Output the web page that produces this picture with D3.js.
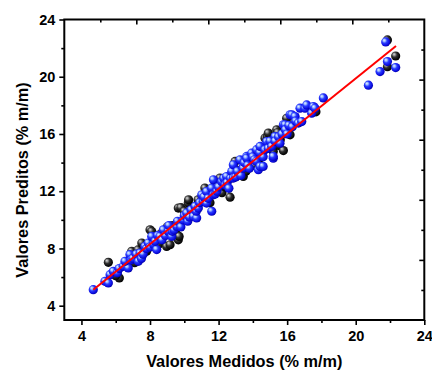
<!DOCTYPE html>
<html>
<head>
<meta charset="utf-8">
<script src="https://cdn.jsdelivr.net/npm/d3@7"></script>
<style>
  html, body { margin: 0; padding: 0; background: #fff; }
  svg { display: block; }
  text { font-family: "Liberation Sans", Arial, sans-serif; font-weight: bold; fill: #000; }
</style>
</head>
<body>
<svg id="chart" width="432" height="372"></svg>
<script>
// ---- data ----
const xTicks = [4, 8, 12, 16, 20, 24];
const xMinorTicks = [6, 10, 14, 18, 22];
const yTicks = [4, 8, 12, 16, 20, 24];
const yMinorTicks = [6, 10, 14, 18, 22];
const topMajor = [2, 4, 6, 8];
const topMinor = [1, 3, 5, 7, 9];
const rightMajor = [2, 4, 6, 8];
const rightMinor = [1, 3, 5, 7, 9];

const blackX = [5.57, 6.21, 6.0, 6.6, 6.93, 7.1, 7.3, 7.52, 7.8, 8.0, 8.1, 8.2, 8.5, 8.6, 8.97, 9.0, 9.17, 9.3, 9.5, 9.65, 9.7, 9.75, 9.65, 9.8, 10.0, 10.23, 10.25, 10.4, 10.5, 10.8, 11.02, 11.2, 11.3, 11.5, 11.8, 11.9, 12.08, 12.2, 12.4, 12.67, 12.96, 13.0, 13.2, 13.44, 13.6, 13.8, 14.0, 14.1, 14.4, 14.71, 14.85, 14.9, 15.0, 15.19, 15.39, 15.45, 15.5, 15.6, 15.78, 15.97, 16.0, 16.17, 16.4, 17.68, 21.85, 22.33, 21.85];
const blackY = [7.03, 5.94, 6.1, 7.0, 7.8, 7.0, 7.9, 8.38, 7.8, 9.3, 9.19, 8.7, 8.3, 9.0, 8.14, 9.5, 8.26, 9.6, 9.3, 8.6, 8.84, 9.66, 10.82, 10.85, 10.6, 11.17, 11.4, 10.3, 10.6, 11.4, 11.4, 12.22, 11.8, 11.2, 12.5, 12.4, 12.92, 11.9, 12.3, 11.58, 14.08, 13.5, 13.2, 13.03, 13.4, 14.2, 14.6, 13.8, 14.3, 15.71, 15.82, 16.06, 15.3, 14.78, 16.29, 16.1, 15.2, 15.6, 14.84, 17.1, 16.5, 15.94, 16.8, 17.55, 22.57, 21.45, 20.7];

const blueX = [4.69, 5.37, 5.57, 5.67, 5.86, 6.1, 6.2, 6.44, 6.73, 6.54, 6.83, 6.9, 7.0, 7.2, 7.32, 7.42, 7.5, 7.7, 7.6, 7.8, 7.9, 8.0, 8.1, 8.2, 8.39, 8.3, 8.45, 8.58, 8.7, 8.78, 8.9, 9.07, 9.1, 9.27, 9.3, 9.4, 9.56, 9.6, 9.8, 9.94, 10.0, 10.14, 10.2, 10.3, 10.4, 10.53, 10.72, 10.63, 10.7, 10.82, 10.9, 11.02, 11.1, 11.15, 11.3, 11.3, 11.4, 11.6, 11.69, 11.6, 11.7, 11.8, 11.9, 12.0, 12.18, 12.3, 12.38, 12.47, 12.5, 12.6, 12.7, 12.77, 12.86, 12.86, 13.0, 13.1, 13.25, 13.3, 13.44, 13.44, 13.5, 13.64, 13.64, 13.7, 13.8, 13.93, 14.0, 14.1, 14.2, 14.22, 14.32, 14.4, 14.42, 14.42, 14.6, 14.6, 14.7, 14.81, 14.9, 15.0, 15.1, 15.19, 15.19, 15.29, 15.3, 15.5, 15.58, 15.7, 15.78, 15.88, 15.9, 16.0, 16.1, 16.17, 16.27, 16.3, 16.46, 16.5, 16.65, 16.75, 16.85, 17.04, 17.14, 17.43, 17.53, 17.63, 18.11, 20.74, 21.42, 21.85, 22.33, 21.75];
const blueY = [5.12, 5.7, 5.59, 6.17, 6.4, 6.3, 6.6, 6.75, 6.64, 7.1, 7.57, 7.2, 7.3, 7.6, 7.1, 7.68, 7.3, 8.14, 7.6, 8.0, 8.38, 8.1, 8.84, 8.3, 7.92, 8.5, 8.9, 8.84, 8.6, 9.3, 8.9, 9.19, 9.6, 8.84, 9.2, 9.3, 9.54, 9.9, 9.5, 10.0, 10.3, 10.48, 9.9, 10.2, 10.7, 10.24, 10.13, 10.94, 10.6, 10.82, 11.2, 11.75, 11.3, 11.6, 11.17, 11.98, 11.5, 12.22, 11.75, 10.6, 12.8, 11.8, 12.0, 12.3, 12.68, 12.9, 12.45, 13.03, 12.6, 12.2, 12.9, 13.38, 13.85, 12.92, 13.0, 13.4, 14.2, 13.1, 13.73, 13.61, 14.0, 14.43, 14.31, 13.8, 13.6, 14.66, 14.4, 14.2, 14.1, 14.9, 13.5, 14.7, 13.73, 15.13, 14.4, 13.73, 14.9, 15.47, 15.0, 15.5, 15.13, 14.31, 14.43, 15.82, 15.5, 15.8, 15.36, 16.0, 16.64, 16.64, 16.3, 16.0, 16.6, 17.34, 17.34, 16.5, 17.22, 16.9, 16.76, 17.8, 16.87, 17.8, 18.03, 17.45, 17.92, 17.8, 18.52, 19.41, 20.36, 21.06, 20.64, 22.43];

const fitX = [4.69, 22.35];
const fitY = [5.12, 22.15];

// ---- layout ----
const svg = d3.select("#chart");
const L = 64.3, R = 424.3, T = 19.5, B = 320;
const x = d3.scaleLinear().domain([3, 24]).range([L, R]);
const y = d3.scaleLinear().domain([3, 24]).range([B, T]);
const xTop = d3.scaleLinear().domain([0, 10]).range([L, R]);
const yRight = d3.scaleLinear().domain([0, 10]).range([B, T]);

// gradients for shaded balls
const defs = svg.append("defs");
function ballGrad(id, stops) {
  const g = defs.append("radialGradient").attr("id", id)
    .attr("cx", "0.42").attr("cy", "0.42").attr("r", "0.62")
    .attr("fx", "0.32").attr("fy", "0.3");
  stops.forEach(s => g.append("stop").attr("offset", s[0]).attr("stop-color", s[1]));
}
ballGrad("gBlue", [["0%", "#e8f0ff"], ["22%", "#9ab8ff"], ["45%", "#2a3cff"], ["80%", "#0a0ae0"], ["100%", "#00009a"]]);
ballGrad("gBlack", [["0%", "#e0e0e0"], ["22%", "#909090"], ["45%", "#303030"], ["80%", "#0a0a0a"], ["100%", "#000"]]);

// points
const rad = 4.6;
const blackPts = blackX.map((v, i) => [v, blackY[i]]);
const bluePts = blueX.map((v, i) => [v, blueY[i]]);
svg.append("g").selectAll("circle").data(blackPts).join("circle")
  .attr("cx", d => x(d[0])).attr("cy", d => y(d[1])).attr("r", rad)
  .attr("fill", "url(#gBlack)");
svg.append("g").selectAll("circle").data(bluePts).join("circle")
  .attr("cx", d => x(d[0])).attr("cy", d => y(d[1])).attr("r", rad)
  .attr("fill", "url(#gBlue)");

// fit line
svg.append("path")
  .datum(fitX.map((v, i) => [v, fitY[i]]))
  .attr("d", d3.line().x(d => x(d[0])).y(d => y(d[1])))
  .attr("stroke", "#ff0000").attr("stroke-width", 2).attr("fill", "none");

// axes
function styleAxis(g) {
  g.select(".domain").remove();
  g.selectAll("line").attr("stroke", "#000").attr("stroke-width", 1.6);
  g.selectAll("text").style("font-size", "14.5px").style("font-weight", "bold")
    .style("font-family", '"Liberation Sans", Arial, sans-serif');
}
// bottom
svg.append("g").attr("transform", `translate(0,${B})`)
  .call(d3.axisBottom(x).tickValues(xTicks).tickSize(5).tickPadding(6).tickFormat(d3.format("d")))
  .call(styleAxis);
svg.append("g").attr("transform", `translate(0,${B})`)
  .call(d3.axisBottom(x).tickValues(xMinorTicks).tickSize(3).tickFormat(""))
  .call(styleAxis);
// left
svg.append("g").attr("transform", `translate(${L},0)`)
  .call(d3.axisLeft(y).tickValues(yTicks).tickSize(5).tickPadding(4).tickFormat(d3.format("d")))
  .call(styleAxis);
svg.append("g").attr("transform", `translate(${L},0)`)
  .call(d3.axisLeft(y).tickValues(yMinorTicks).tickSize(3).tickFormat(""))
  .call(styleAxis);
// top (inward)
svg.append("g").attr("transform", `translate(0,${T})`)
  .call(d3.axisBottom(xTop).tickValues(topMajor).tickSize(5).tickFormat(""))
  .call(styleAxis);
svg.append("g").attr("transform", `translate(0,${T})`)
  .call(d3.axisBottom(xTop).tickValues(topMinor).tickSize(3).tickFormat(""))
  .call(styleAxis);
// right (inward)
svg.append("g").attr("transform", `translate(${R},0)`)
  .call(d3.axisLeft(yRight).tickValues(rightMajor).tickSize(5).tickFormat(""))
  .call(styleAxis);
svg.append("g").attr("transform", `translate(${R},0)`)
  .call(d3.axisLeft(yRight).tickValues(rightMinor).tickSize(3).tickFormat(""))
  .call(styleAxis);

// frame
svg.append("rect").attr("x", L).attr("y", T).attr("width", R - L).attr("height", B - T)
  .attr("fill", "none").attr("stroke", "#000").attr("stroke-width", 2);

// axis titles
svg.append("text").attr("x", (L + R) / 2).attr("y", 367)
  .attr("text-anchor", "middle").style("font-size", "16.3px")
  .text("Valores Medidos (% m/m)");
svg.append("text")
  .attr("transform", `translate(28,180) rotate(-90)`)
  .attr("text-anchor", "middle").style("font-size", "16.3px")
  .text("Valores Preditos (% m/m)");
</script>
</body>
</html>
